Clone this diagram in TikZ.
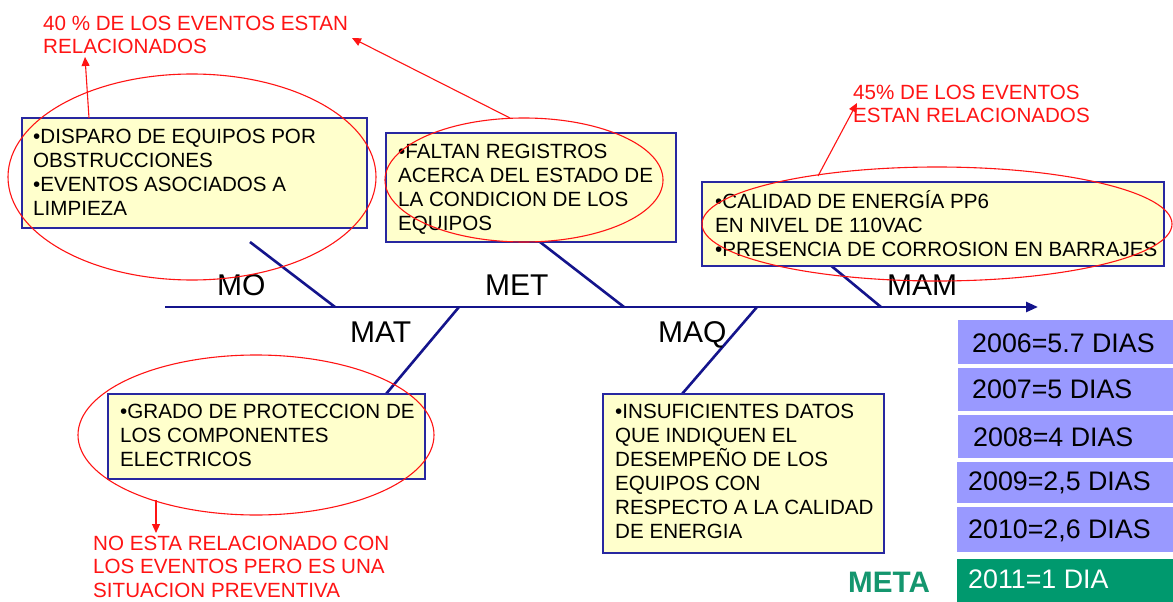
\documentclass[tikz,border=0pt]{standalone}
\usepackage{fontspec}
\setmainfont{Liberation Sans}
\usetikzlibrary{shapes.geometric,arrows.meta}
\definecolor{boneblue}{RGB}{20,20,140}
\definecolor{boxblue}{RGB}{40,40,160}
\definecolor{boxfill}{RGB}{255,255,204}
\definecolor{annred}{RGB}{255,20,20}
\definecolor{rowpurple}{RGB}{153,153,255}
\definecolor{rowgreen}{RGB}{0,153,110}
\definecolor{metagreen}{RGB}{20,150,110}
\begin{document}
\begin{tikzpicture}[x=1pt,y=-1pt,
  bone/.style={draw=boneblue,line width=2.6pt},
  causebox/.style={draw=boxblue,fill=boxfill,line width=1.6pt,anchor=north west,inner sep=0pt,outer sep=0pt},
  boxtxt/.style={anchor=north west,inner sep=0pt,align=left,font=\fontsize{20.6}{24}\selectfont},
  redtxt/.style={anchor=north west,inner sep=0pt,align=left,text=annred,font=\fontsize{20.6}{23.5}\selectfont},
  cattxt/.style={anchor=base west,inner sep=0pt,font=\fontsize{30}{36}\selectfont},
  ring/.style={ellipse,draw=annred,line width=1.1pt,inner sep=0pt},
  redarrow/.style={draw=annred,line width=1.1pt,-{Triangle[length=9pt,width=8pt]}},
  rowbox/.style={fill=rowpurple,anchor=north west,inner sep=0pt,outer sep=0pt},
  rowtxt/.style={anchor=base west,inner sep=0pt,font=\fontsize{26.8}{30}\selectfont}]
\useasboundingbox (0,0) rectangle (1173,602);
\fill[white] (0,0) rectangle (1173,602);

% spine and bones
\coordinate (sL) at (165,307);
\coordinate (sR) at (1038,307);
\draw[bone,-{Triangle[length=12pt,width=10pt]}] (sL) -- (sR);
\coordinate (moA) at (250,242); \coordinate (moB) at (335,307);
\coordinate (metA) at (540,242); \coordinate (metB) at (624,307);
\coordinate (mamA) at (800,240); \coordinate (mamB) at (881,307);
\coordinate (matA) at (459,307); \coordinate (matB) at (386,394);
\coordinate (maqA) at (757,307); \coordinate (maqB) at (682,394);
\draw[bone] (moA) -- (moB);
\draw[bone] (metA) -- (metB);
\draw[bone] (mamA) -- (mamB);
\draw[bone] (matA) -- (matB);
\draw[bone] (maqA) -- (maqB);

% category labels
\node[cattxt] (mo) at (217,295) {MO};
\node[cattxt] (met) at (485,295) {MET};
\node[cattxt] (mam) at (887,295) {MAM};
\node[cattxt] (mat) at (350,342) {MAT};
\node[cattxt] (maq) at (658,342) {MAQ};

% cause boxes
\node[causebox,minimum width=345pt,minimum height=110pt] (b1) at (22,118) {};
\node[causebox,minimum width=290pt,minimum height=109pt] (b2) at (386,133) {};
\node[causebox,minimum width=462pt,minimum height=84pt] (b3) at (702,182) {};
\node[causebox,minimum width=317pt,minimum height=85pt] (b4) at (108,394) {};
\node[causebox,minimum width=281pt,minimum height=159pt] (b5) at (603,394) {};

\node[boxtxt] (t1) at (33,126.2) {\strut•DISPARO DE EQUIPOS POR\\OBSTRUCCIONES\\•EVENTOS ASOCIADOS A\\LIMPIEZA};
\node[boxtxt] (t2) at (398,141.2) {\strut•FALTAN REGISTROS\\ACERCA DEL ESTADO DE\\LA CONDICION DE LOS\\EQUIPOS};
\node[boxtxt] (t3) at (715,190.2) {\strut•CALIDAD DE ENERGÍA PP6\\EN NIVEL DE 110VAC\\•PRESENCIA DE CORROSION EN BARRAJES};
\node[boxtxt] (t4) at (120,401.2) {\strut•GRADO DE PROTECCION DE\\LOS COMPONENTES\\ELECTRICOS};
\node[boxtxt] (t5) at (615,401.2) {\strut•INSUFICIENTES DATOS\\QUE INDIQUEN EL\\DESEMPEÑO DE LOS\\EQUIPOS CON\\RESPECTO A LA CALIDAD\\DE ENERGIA};

% red rings
\node[ring,minimum width=368pt,minimum height=206pt] (e1) at (192,177) {};
\node[ring,minimum width=278pt,minimum height=124pt] (e2) at (524,180) {};
\node[ring,minimum width=470pt,minimum height=114pt] (e3) at (937,224) {};
\node[ring,minimum width=356pt,minimum height=160pt] (e4) at (256,435) {};

% red notes
\node[redtxt] (n1) at (43,13.6) {\strut 40 \% DE LOS EVENTOS ESTAN\\RELACIONADOS};
\node[redtxt] (n2) at (853,82.6) {\strut 45\% DE LOS EVENTOS\\ESTAN RELACIONADOS};
\node[redtxt] (n3) at (93,533.6) {\strut NO ESTA RELACIONADO CON\\LOS EVENTOS PERO ES UNA\\SITUACION PREVENTIVA};

\coordinate (a1s) at (89,118); \coordinate (a1e) at (85,57);
\coordinate (a2s) at (510,118); \coordinate (a2e) at (352,38);
\coordinate (a3s) at (818,176); \coordinate (a3e) at (857,103);
\coordinate (a4s) at (156,500); \coordinate (a4e) at (156,533);
\draw[redarrow] (a1s) -- (a1e);
\draw[redarrow] (a2s) -- (a2e);
\draw[redarrow] (a3s) -- (a3e);
\draw[redarrow] (a4s) -- (a4e);

% results table
\node[rowbox,minimum width=215pt,minimum height=44pt] (r1) at (958,320) {};
\node[rowbox,minimum width=215pt,minimum height=43pt] (r2) at (958,368) {};
\node[rowbox,minimum width=215pt,minimum height=43pt] (r3) at (958,415) {};
\node[rowbox,minimum width=216pt,minimum height=41pt] (r4) at (957,462) {};
\node[rowbox,minimum width=216pt,minimum height=45pt] (r5) at (957,507) {};
\node[rowbox,fill=rowgreen,minimum width=216pt,minimum height=43pt] (r6) at (957,559) {};
\node[rowtxt] (y1) at (972,352) {2006=5.7 DIAS};
\node[rowtxt] (y2) at (972,398) {2007=5 DIAS};
\node[rowtxt] (y3) at (973,446) {2008=4 DIAS};
\node[rowtxt] (y4) at (968,490) {2009=2,5 DIAS};
\node[rowtxt] (y5) at (968,538) {2010=2,6 DIAS};
\node[rowtxt,text=white] (y6) at (968,588) {2011=1 DIA};
\node[anchor=base west,inner sep=0pt,text=metagreen,font=\fontsize{29.6}{34}\selectfont\bfseries] (meta) at (848,592) {META};
\end{tikzpicture}
\end{document}
